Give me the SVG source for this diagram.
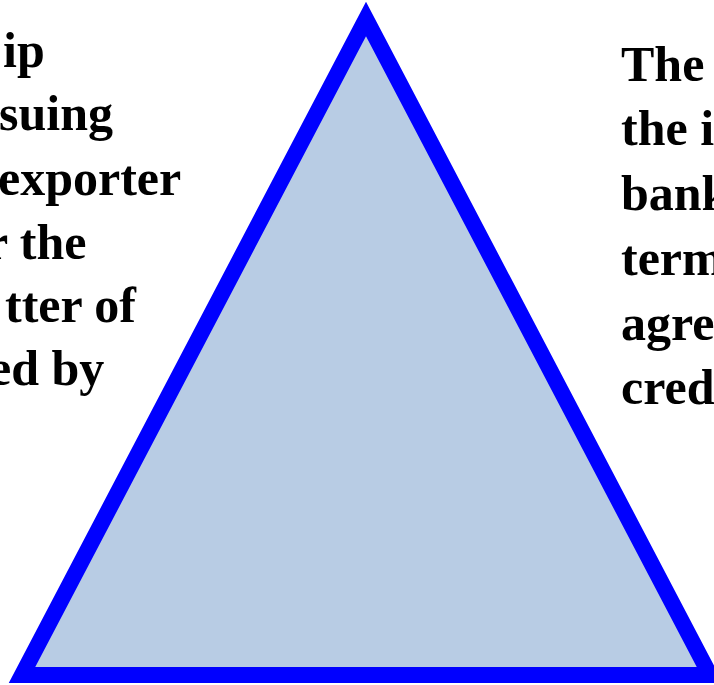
<svg xmlns="http://www.w3.org/2000/svg" width="714" height="685" viewBox="0 0 714 685">
<style>
.t{font-family:"Liberation Serif","Times New Roman",serif;font-weight:bold;font-size:50px;fill:#000}
</style>
<rect width="714" height="685" fill="#fff"/>
<g id="triangle">
<polygon points="366,19 710,675 22,675" fill="#B8CCE4" stroke="#0000FF" stroke-width="16" stroke-linejoin="miter" stroke-miterlimit="10"/>
</g>
<g id="left-text">
<text class="t" x="3" y="67">ip</text>
<text class="t" x="-1" y="130">suing</text>
<text class="t" x="-2" y="195">exporter</text>
<text class="t" x="-14" y="259">r the</text>
<text class="t" x="5" y="322">tter of</text>
<text class="t" x="-11" y="385">ed by</text>
</g>
<g id="right-text">
<text class="t" x="621" y="81">The</text>
<text class="t" x="621" y="145">the i</text>
<text class="t" x="621" y="210">bank</text>
<text class="t" x="621" y="275">term</text>
<text class="t" x="621" y="340">agre</text>
<text class="t" x="621" y="404">cred</text>
</g>
</svg>
